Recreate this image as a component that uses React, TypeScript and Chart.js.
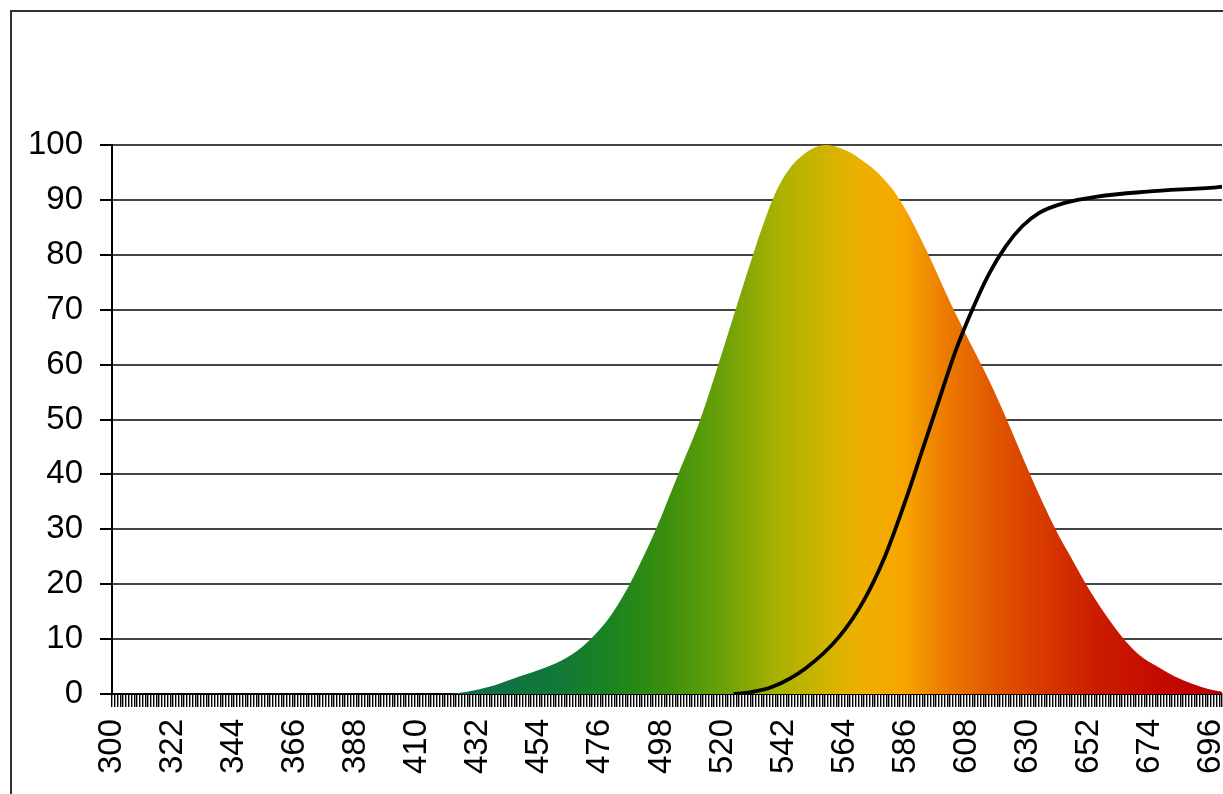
import React, { useEffect, useRef } from "react";
import { Chart, registerables } from "chart.js";

Chart.register(...registerables);

// Spectral sensitivity curve (wavelength nm -> relative value)
const spectrumNm = [300, 420, 428, 436, 444, 454, 462, 468, 474, 480, 486, 491, 496, 504, 512, 518.5, 524.7, 531, 535, 538, 541, 544, 547, 550, 553, 557, 561, 565, 569, 573, 577, 581, 584, 588, 595, 602, 609, 616, 622, 631, 640, 646, 651, 657, 664, 670, 677, 683, 689, 695, 700];
const spectrumValues = [0, 0, 0.4, 1.3, 2.7, 4.4, 6.1, 8, 10.8, 14.5, 19.5, 24.5, 30, 40, 50, 60, 70, 80, 86, 90, 93.2, 95.6, 97.3, 98.6, 99.5, 100, 99.7, 98.9, 97.7, 96.2, 94.4, 92.1, 89.9, 86.4, 79.2, 71.4, 64.2, 57.2, 50.5, 39.8, 30, 24.5, 20, 15.2, 10.4, 7.2, 4.9, 3.2, 1.9, 0.9, 0.4];

// Transmission curve (black line)
const curveNm = [524, 530, 538, 550, 562, 571, 578.5, 586, 592, 598, 604, 610, 616, 622, 628, 634, 643, 655, 673, 698, 700];
const curveValues = [0, 0.3, 1.3, 4.7, 10.4, 17.1, 25, 35.3, 44.4, 53.5, 62.5, 70, 76.5, 81.5, 85.2, 87.6, 89.4, 90.6, 91.5, 92.3, 92.4];

const xMin = 300;
const xMax = 700;
const xLabelStep = 22;
const yMin = 0;
const yMax = 100;
const yStep = 10;

// Colour stops of the spectrum fill (nm, colour)
const gradientNm = [420, 460, 480, 500, 520, 540, 555, 570, 585, 600, 615, 635, 655, 680, 700];
const gradientColors = ["#0e6b4a", "#11783a", "#1a8420", "#3c8f0c", "#6aa108", "#a9b200", "#ccb400", "#eeb000", "#f7a600", "#ec7c00", "#e35c00", "#d83a00", "#cc1c00", "#c20800", "#b80000"];

const FONT = { family: "'Liberation Sans', Arial, sans-serif", size: 33 };

export default function App() {
  const ref = useRef<HTMLCanvasElement>(null);

  useEffect(() => {
    const canvas = ref.current;
    if (!canvas) return;
    const chart = new Chart(canvas, {
      type: "line",
      data: {
        datasets: [
          {
            data: spectrumNm.map((x, i) => ({ x, y: spectrumValues[i] })),
            fill: "origin",
            borderWidth: 0,
            borderColor: "rgba(0,0,0,0)",
            pointRadius: 0,
            cubicInterpolationMode: "monotone",
            order: 2,
            backgroundColor: (ctx: any) => {
              const c = ctx.chart;
              const xs = c.scales && c.scales.x;
              if (!c.chartArea || !xs) return "#e0a000";
              const x0 = xs.getPixelForValue(xMin);
              const x1 = xs.getPixelForValue(xMax);
              const g = c.ctx.createLinearGradient(x0, 0, x1, 0);
              gradientNm.forEach((nm, i) => {
                g.addColorStop((nm - xMin) / (xMax - xMin), gradientColors[i]);
              });
              return g;
            },
          } as any,
          {
            data: curveNm.map((x, i) => ({ x, y: curveValues[i] })),
            fill: false,
            borderColor: "#000",
            borderWidth: 3.8,
            pointRadius: 0,
            cubicInterpolationMode: "monotone",
            order: 1,
          } as any,
        ],
      },
      options: {
        animation: false,
        responsive: false,
        maintainAspectRatio: false,
        layout: { padding: { left: 0, top: 145, right: 1, bottom: 0 } },
        plugins: { legend: { display: false }, tooltip: { enabled: false } },
        scales: {
          x: {
            type: "linear",
            min: xMin,
            max: xMax,
            ticks: {
              stepSize: 1,
              autoSkip: false,
              maxRotation: 90,
              minRotation: 90,
              color: "#000",
              font: FONT,
              padding: 12,
              callback: (v: any) => ((Number(v) - xMin) % xLabelStep === 0 ? String(v) : ""),
            },
            grid: {
              drawOnChartArea: false,
              drawTicks: true,
              tickLength: 13,
              color: "#000",
              lineWidth: 1.4,
            },
            border: { color: "#000", width: 2 },
            afterFit: (s: any) => {
              s.height = 100;
              s.paddingLeft = 0;
              s.paddingRight = 0;
            },
          } as any,
          y: {
            min: yMin,
            max: yMax,
            ticks: { stepSize: yStep, color: "#000", font: FONT, padding: 17 },
            grid: { color: "#444", lineWidth: 2, tickLength: 12, tickColor: "#000" },
            border: { color: "#000", width: 2 },
            afterFit: (s: any) => {
              s.width = 112;
              s.paddingTop = 0;
              s.paddingBottom = 0;
            },
          } as any,
        },
      },
    });
    return () => chart.destroy();
  }, []);

  return (
    <div
      style={{
        position: "fixed",
        left: 0,
        top: 0,
        width: 1223,
        height: 794,
        overflow: "hidden",
        background: "#fff",
      }}
    >
      <div
        style={{
          position: "absolute",
          left: 10,
          top: 10,
          width: 1400,
          height: 1000,
          borderTop: "2px solid #333",
          borderLeft: "2px solid #333",
        }}
      />
      <canvas
        ref={ref}
        width={1223}
        height={794}
        style={{ position: "absolute", left: 0, top: 0, width: 1223, height: 794 }}
      />
    </div>
  );
}
